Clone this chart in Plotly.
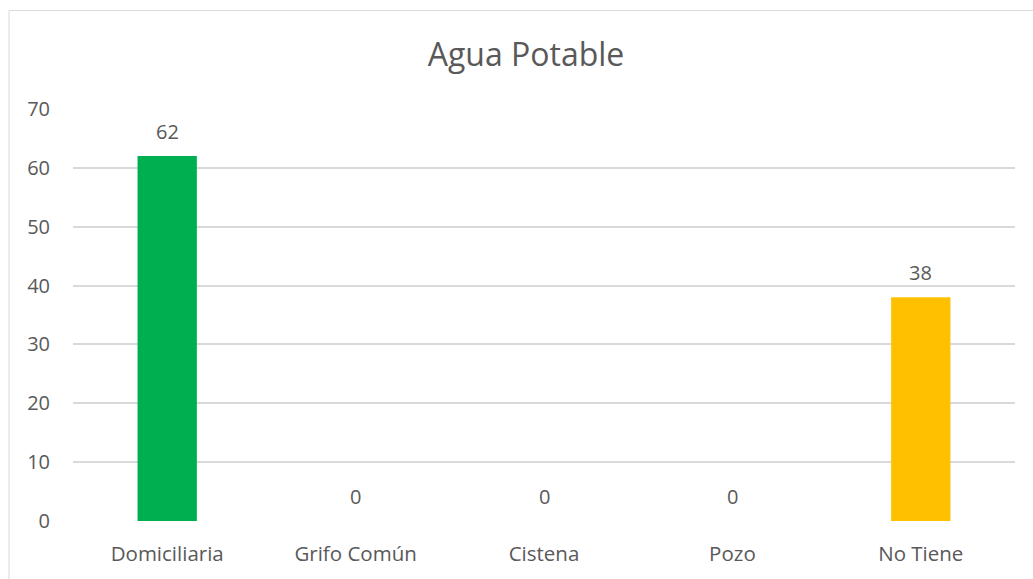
import plotly.graph_objects as go

categories = ["Domiciliaria", "Grifo Común", "Cistena", "Pozo", "No Tiene"]
values = [62, 0, 0, 0, 38]
bar_colors = ["#00B050", "#00B050", "#00B050", "#00B050", "#FFC000"]
y_ticks = [0, 10, 20, 30, 40, 50, 60, 70]

W, H = 1033, 579
L, R, T, B = 73, 18, 109, 56
pw, ph = W - L - R, H - T - B

font_family = "Open Sans, Noto Sans, sans-serif"
text_color = "#595959"
grid_color = "#D9D9D9"

fig = go.Figure()
fig.add_trace(go.Bar(
    x=categories,
    y=values,
    marker=dict(color=bar_colors, line=dict(width=0)),
    width=0.315,
    hoverinfo="x+y",
))

# value labels above each bar
for c, v in zip(categories, values):
    fig.add_annotation(
        x=c, y=v, text=str(v), showarrow=False,
        yanchor="middle", yshift=25,
        font=dict(family=font_family, size=20, color=text_color),
    )

# outer chart frame
fig.add_shape(
    type="rect", xref="paper", yref="paper",
    x0=(9 - L) / pw, x1=(W + 20 - L) / pw,
    y0=-(H + 20 - (T + ph)) / ph, y1=(T + ph - 10) / ph,
    line=dict(color=grid_color, width=1), fillcolor="rgba(0,0,0,0)",
    layer="below",
)

fig.update_layout(
    width=W, height=H,
    margin=dict(l=L, r=R, t=T, b=B, pad=0),
    paper_bgcolor="white", plot_bgcolor="white",
    showlegend=False,
    title=dict(
        text="Agua Potable",
        x=526 / W, xref="container", xanchor="center",
        y=1 - 55 / H, yref="container", yanchor="middle",
        font=dict(family=font_family, size=32, color=text_color),
    ),
    font=dict(family=font_family, size=20, color=text_color),
    xaxis=dict(
        showgrid=False, zeroline=False, showline=False,
        ticks="", ticklabelstandoff=18,
        tickfont=dict(size=20.5, color=text_color),
    ),
    yaxis=dict(
        range=[0, 70], tickvals=y_ticks,
        showgrid=True, gridcolor=grid_color, gridwidth=1.5,
        zeroline=False, showline=False,
        ticks="", ticklabelstandoff=22,
        tickfont=dict(size=20, color=text_color),
    ),
)

fig.write_html("out.html")
